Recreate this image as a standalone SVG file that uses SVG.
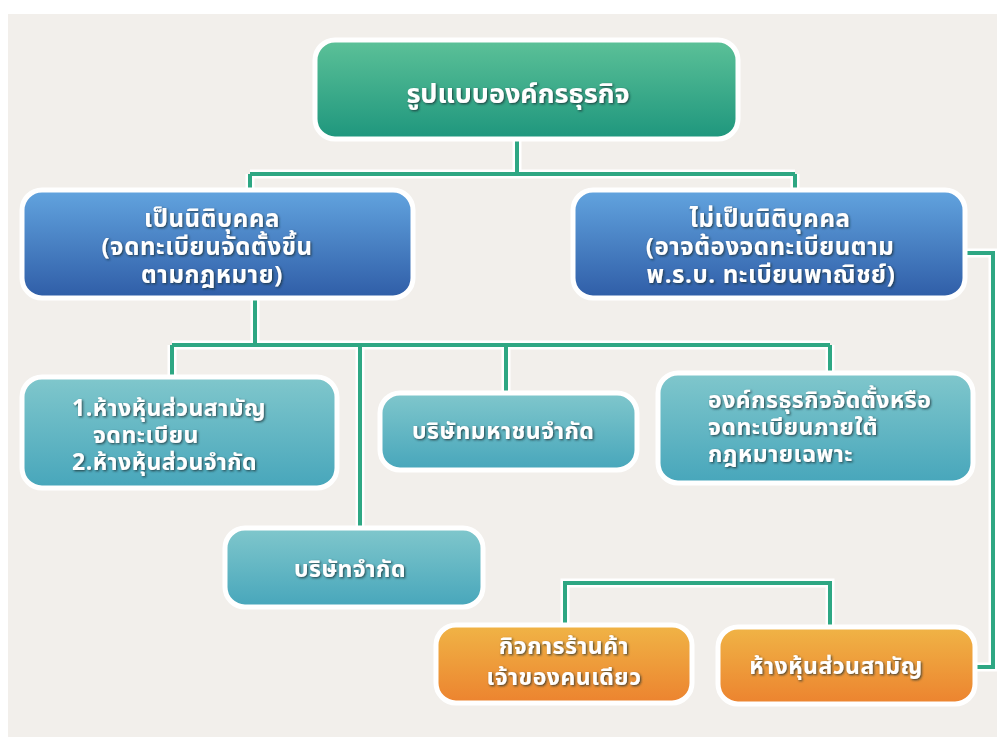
<svg xmlns="http://www.w3.org/2000/svg" width="997" height="737" viewBox="0 0 997 737">
<defs>
<linearGradient id="gGreen" x1="0" y1="0" x2="0" y2="1"><stop offset="0" stop-color="#5cc198"/><stop offset="1" stop-color="#1e967d"/></linearGradient>
<linearGradient id="gBlue" x1="0" y1="0" x2="0" y2="1"><stop offset="0" stop-color="#62a4df"/><stop offset="1" stop-color="#2f5da7"/></linearGradient>
<linearGradient id="gTeal" x1="0" y1="0" x2="0" y2="1"><stop offset="0" stop-color="#80c7cc"/><stop offset="1" stop-color="#47a6bb"/></linearGradient>
<linearGradient id="gOrange" x1="0" y1="0" x2="0" y2="1"><stop offset="0" stop-color="#f0b446"/><stop offset="1" stop-color="#ec832f"/></linearGradient>
<filter id="ts" x="-10%" y="-30%" width="120%" height="160%"><feDropShadow dx="1.2" dy="1.2" stdDeviation="0.9" flood-color="#1d2a33" flood-opacity="0.8"/></filter>
</defs>
<style>
.box{stroke:#ffffff;stroke-width:5}
.t{font-family:"Noto Sans Thai","Noto Sans","DejaVu Sans",sans-serif;font-weight:bold;fill:#ffffff;filter:url(#ts)}
.b{font-size:24px;letter-spacing:0.6px}
.s{font-size:23px;letter-spacing:0.5px}
.halo{fill:none;stroke:#ffffff;stroke-width:9}
.ln{fill:none;stroke:#2ea783;stroke-width:4}
</style>
<rect x="0" y="0" width="997" height="737" fill="#ffffff"/>
<rect x="8" y="14" width="989" height="723" fill="#f2efeb"/>

<g id="connectors">
  <path class="halo" d="M517,140 V174 M250,174 H795 M250,174 V192 M795,174 V192"/>
  <path class="ln" d="M517,140 V174 M250,174 H795 M250,174 V192 M795,174 V192"/>
  <path class="halo" d="M255,298 V345 M172,345 H830 M172,345 V378 M360,345 V528 M506,345 V394 M830,345 V374"/>
  <path class="ln" d="M255,298 V345 M172,345 H830 M172,345 V378 M360,345 V528 M506,345 V394 M830,345 V374"/>
  <path class="halo" d="M965,253 H993 V667 H975"/>
  <path class="ln" d="M965,253 H993 V667 H975"/>
  <path class="halo" d="M565,625 V583 H830 V627"/>
  <path class="ln" d="M565,625 V583 H830 V627"/>
</g>

<g id="root">
  <rect class="box" x="315" y="40" width="423" height="99" rx="20" fill="url(#gGreen)"/>
  <text class="t" x="518" y="103" font-size="27" text-anchor="middle">รูปแบบองค์กรธุรกิจ</text>
</g>

<g id="legal">
  <rect class="box" x="22" y="190" width="391" height="108" rx="20" fill="url(#gBlue)"/>
  <text class="t b" x="212" y="227" text-anchor="middle">เป็นนิติบุคคล</text>
  <text class="t b" x="207" y="255" text-anchor="middle">(จดทะเบียนจัดตั้งขึ้น</text>
  <text class="t b" x="212" y="283" text-anchor="middle">ตามกฎหมาย)</text>
</g>

<g id="nonlegal">
  <rect class="box" x="573" y="190" width="392" height="108" rx="20" fill="url(#gBlue)"/>
  <text class="t b" x="770" y="227" text-anchor="middle">ไม่เป็นนิติบุคคล</text>
  <text class="t b" x="770" y="255" text-anchor="middle">(อาจต้องจดทะเบียนตาม</text>
  <text class="t b" x="771" y="283" text-anchor="middle">พ.ร.บ. ทะเบียนพาณิชย์)</text>
</g>

<g id="partnership">
  <rect class="box" x="22" y="377" width="315" height="111" rx="20" fill="url(#gTeal)"/>
  <text class="t s" x="72" y="416">1.ห้างหุ้นส่วนสามัญ</text>
  <text class="t s" x="93" y="443">จดทะเบียน</text>
  <text class="t s" x="72" y="470">2.ห้างหุ้นส่วนจำกัด</text>
</g>

<g id="public-company">
  <rect class="box" x="380" y="393" width="257" height="77" rx="20" fill="url(#gTeal)"/>
  <text class="t s" x="412" y="439">บริษัทมหาชนจำกัด</text>
</g>

<g id="special-law">
  <rect class="box" x="658" y="373" width="315" height="110" rx="20" fill="url(#gTeal)"/>
  <text class="t s" x="708" y="408">องค์กรธุรกิจจัดตั้งหรือ</text>
  <text class="t s" x="708" y="435">จดทะเบียนภายใต้</text>
  <text class="t s" x="708" y="462">กฎหมายเฉพาะ</text>
</g>

<g id="limited-company">
  <rect class="box" x="225" y="528" width="258" height="79" rx="20" fill="url(#gTeal)"/>
  <text class="t s" x="350" y="577" text-anchor="middle">บริษัทจำกัด</text>
</g>

<g id="sole-proprietor">
  <rect class="box" x="436" y="625" width="256" height="78" rx="20" fill="url(#gOrange)"/>
  <text class="t s" x="564" y="654" text-anchor="middle">กิจการร้านค้า</text>
  <text class="t s" x="564" y="685" text-anchor="middle">เจ้าของคนเดียว</text>
</g>

<g id="ordinary-partnership">
  <rect class="box" x="718" y="627" width="257" height="77" rx="20" fill="url(#gOrange)"/>
  <text class="t s" x="836" y="674" text-anchor="middle">ห้างหุ้นส่วนสามัญ</text>
</g>
</svg>
